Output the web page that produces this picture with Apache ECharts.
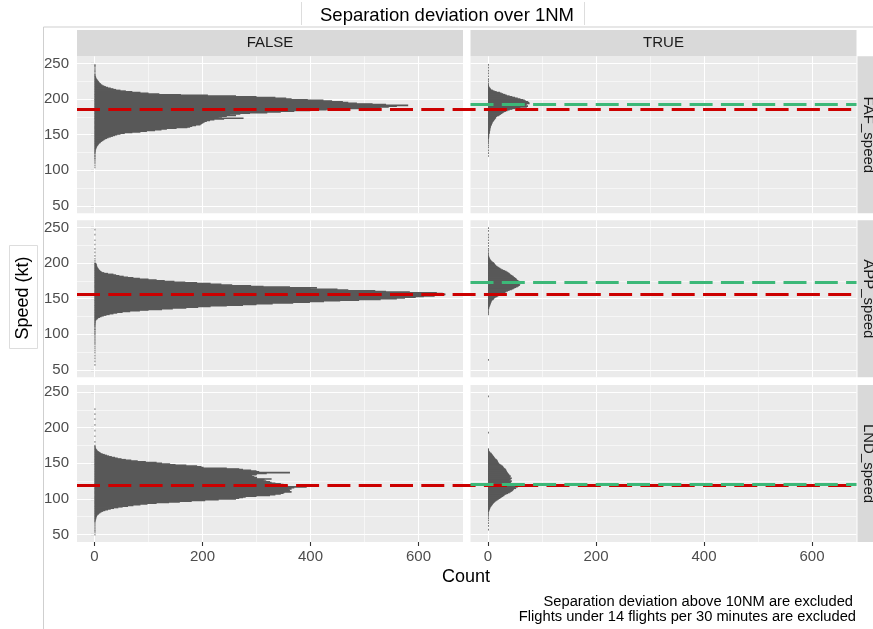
<!DOCTYPE html>
<html><head><meta charset="utf-8">
<script src="https://cdn.jsdelivr.net/npm/echarts@6/dist/echarts.min.js"></script>
<style>html,body{margin:0;padding:0;background:#fff}#chart{width:873px;height:629px}</style>
</head><body><div id="chart"></div>
<script>
// ---------- text / categories ----------
const titleText = 'Separation deviation over 1NM';
const colLabels = ['FALSE', 'TRUE'];
const rowLabels = ['FAF_speed', 'APP_speed', 'LND_speed'];
const xLabel = 'Count';
const yLabel = 'Speed (kt)';
const captions = ['Separation deviation above 10NM are excluded', 'Flights under 14 flights per 30 minutes are excluded'];
const xTicks = [0, 200, 400, 600];
const xMinor = [100, 300, 500];
const yTicks = [50, 100, 150, 200, 250];
const yMinor = [75, 125, 175, 225];

// ---------- histogram counts (1 kt bins, first bin speed = *Start) ----------
const fafFalseStart = 126;
const fafFalse = [2,1,2,2,3,3,4,4,5,6,
 7,8,9,11,12,14,16,18,20,23,
 26,30,34,38,42,48,56,70,85,97,
 112,124,134,152,172,177,181,188,196,198,
 200,202,204,208,214,222,240,276,230,236,
 245,262,251,270,288,320,345,370,400,430,
 470,500,530,545,560,581,540,515,486,470,
 460,440,424,395,365,355,335,300,262,210,
 160,120,100,85,70,58,48,40,35,30,
 25,21,18,15,13,12,10,9,8,7,
 6,5,4,3,3,2,2,1,1,1];
const fafFalseSingles = [104,107,110,112,114,116,117,119,120,121,123,124,125,237,239,240,242,244,246,247,248];

const appFalseStart = 113;
const appFalse = [1,1,1,2,1,2,2,3,4,6,
 7,10,13,17,22,28,35,42,52,66,
 84,100,125,145,170,192,215,245,275,300,
 330,368,399,425,455,490,530,560,575,595,
 610,630,646,650,645,634,584,540,520,470,
 450,400,412,362,313,290,255,235,215,190,
 168,148,130,115,100,84,72,62,54,46,
 40,35,25,18,14,12,10,9,8,7,
 6,5,5,4,4,4,3,1];
const appFalseSingles = [57,62,66,70,74,77,80,83,86,88,90,92,94,96,98,100,101,103,104,106,107,108,110,111,112,203,206,210,215,220,226,232,240,247];

const lndFalseStart = 67;
const lndFalse = [1,1,1,2,2,3,3,3,4,4,
 5,6,8,9,11,13,16,20,25,30,
 36,44,52,62,72,85,98,115,138,158,
 180,205,230,262,268,275,280,300,325,335,
 345,350,352,365,358,362,360,365,362,370,
 393,358,352,350,345,335,328,325,318,313,
 315,328,300,301,296,290,292,300,301,319,
 362,305,300,290,275,268,245,202,198,190,
 170,150,140,125,115,95,80,68,58,50,
 43,38,32,27,23,19,15,12,10,8,
 6,5,4,3,2,2,1,1,1];
const lndFalseSingles = [50,53,55,57,59,61,63,65,180,188,196,204,212,219,226];

const fafTrueStart = 144;
const fafTrue = [1,1,2,1,2,2,2,2,3,3,
 3,3,4,4,4,4,5,5,5,6,
 7,7,8,8,9,10,11,12,13,14,
 15,15,17,20,22,24,26,28,30,33,
 36,40,45,50,60,72,74,70,71,72,
 77,76,74,70,68,65,60,55,50,45,
 40,35,32,28,25,22,16,12,9,6,
 5,4,3,2,1,1,1];
const fafTrueSingles = [120,124,128,132,135,138,140,142,222,225,228,232,236,240,244,248];

const appTrueStart = 136;
const appTrue = [2,2,2,3,3,4,4,5,5,6,
 6,7,8,10,11,12,14,17,19,21,
 24,27,30,32,34,37,40,44,47,49,
 52,55,57,59,58,60,59,59,58,56,
 54,53,52,50,48,47,45,43,41,40,
 38,36,34,31,28,25,23,21,19,17,
 15,14,13,12,11,9,7,6,5,4,
 3,3,2,2];
const appTrueSingles = [64,128,130,132,134,210,212,214,217,220,224,228,232,236,240,245,249];

const lndTrueStart = 83;
const lndTrue = [2,2,3,3,4,4,5,6,7,8,
 9,10,11,13,14,16,18,20,22,24,
 26,28,30,31,34,37,40,42,44,46,
 47,48,52,50,55,52,48,46,44,43,
 42,41,44,40,42,40,44,41,40,42,
 40,39,38,37,36,35,34,34,33,32,
 30,29,28,27,25,23,21,20,19,18,
 18,17,16,14,13,12,11,10,9,8,
 7,6,4,3,2,1,1,1];
const lndTrueSingles = [57,62,66,70,73,76,78,80,82,193,244];

// reference speeds (dashed lines)
const redLines = [185.5, 155.5, 119.3];
const greenLines = [192, 173.3, 120.3];

// ---------- layout ----------
const FONT = 'Liberation Sans, Arial, sans-serif';
const rowTops = [56.3, 220.3, 385];
const rowH = 157;
const colLefts = [77, 470.5];
const colW = 386;
const xMin = -32.5, xMax = 682.5, yMin = 39.5, yMax = 260;

const panelData = [
  [[fafFalseStart, fafFalse, fafFalseSingles], [fafTrueStart, fafTrue, fafTrueSingles]],
  [[appFalseStart, appFalse, appFalseSingles], [appTrueStart, appTrue, appTrueSingles]],
  [[lndFalseStart, lndFalse, lndFalseSingles], [lndTrueStart, lndTrue, lndTrueSingles]]
];

function toData(start, counts, singles) {
  const d = [];
  counts.forEach((c, i) => { if (c > 0) d.push([c, start + i]); });
  singles.forEach(s => d.push([1, s]));
  return d;
}

function renderBin(params, api) {
  const c = api.value(0), s = api.value(1);
  const a = api.coord([0, s + 0.5]);
  const b = api.coord([c, s - 0.5]);
  return {
    type: 'rect',
    shape: { x: a[0], y: a[1] - 0.5, width: Math.max(b[0] - a[0], 0.8), height: b[1] - a[1] + 1 },
    style: { fill: '#595959' }
  };
}

const majorStyle = { color: '#ffffff', width: 1.1, type: 'solid' };
const minorStyle = { color: '#ffffff', width: 0.55, type: 'solid' };
const gridLineData = [].concat(
  yMinor.map(v => ({ yAxis: v, lineStyle: minorStyle })),
  xMinor.map(v => ({ xAxis: v, lineStyle: minorStyle })),
  yTicks.map(v => ({ yAxis: v, lineStyle: majorStyle })),
  xTicks.map(v => ({ xAxis: v, lineStyle: majorStyle }))
);

const grids = [], xAxes = [], yAxes = [], series = [];
for (let r = 0; r < 3; r++) {
  for (let c = 0; c < 2; c++) {
    const gi = grids.length;
    grids.push({ left: colLefts[c], top: rowTops[r], width: colW, height: rowH,
      show: true, backgroundColor: '#EBEBEB', borderWidth: 0, containLabel: false });
    const showX = r === 2, showY = c === 0;
    xAxes.push({ gridIndex: gi, type: 'value', min: xMin, max: xMax,
      axisLine: { show: false }, splitLine: { show: false },
      axisTick: { show: showX, customValues: xTicks, length: 4, lineStyle: { color: '#333333', width: 1.1 } },
      axisLabel: { show: showX, customValues: xTicks, margin: 7.5, color: '#4D4D4D', fontSize: 15, fontFamily: FONT } });
    yAxes.push({ gridIndex: gi, type: 'value', min: yMin, max: yMax,
      axisLine: { show: false }, splitLine: { show: false },
      axisTick: { show: showY, customValues: yTicks, length: 4, lineStyle: { color: '#333333', width: 1.1 } },
      axisLabel: { show: showY, customValues: yTicks, margin: 8, color: '#4D4D4D', fontSize: 15, fontFamily: FONT } });
    const pd = panelData[r][c];
    series.push({ type: 'line', data: [], xAxisIndex: gi, yAxisIndex: gi, silent: true,
      markLine: { silent: true, z: 1, symbol: ['none', 'none'], label: { show: false }, animation: false, data: gridLineData } });
    series.push({ type: 'custom', xAxisIndex: gi, yAxisIndex: gi, z: 2, silent: true,
      encode: { x: 0, y: 1 }, renderItem: renderBin, data: toData(pd[0], pd[1], pd[2]) });
    if (c === 1) {
      series.push({ type: 'line', data: [], xAxisIndex: gi, yAxisIndex: gi, silent: true,
        markLine: { silent: true, z: 6, symbol: ['none', 'none'], label: { show: false }, animation: false,
          data: [{ yAxis: greenLines[r], lineStyle: { color: '#3CB878', width: 3.2, type: [23, 8.3], cap: 'butt' } }] } });
    }
  }
}
// overlay grids for the red reference line spanning both columns
for (let r = 0; r < 3; r++) {
  const gi = grids.length;
  grids.push({ left: colLefts[0], top: rowTops[r], width: 852.5 - colLefts[0], height: rowH, show: false });
  xAxes.push({ gridIndex: gi, type: 'value', min: 0, max: 1, show: false });
  yAxes.push({ gridIndex: gi, type: 'value', min: yMin, max: yMax, show: false });
  series.push({ type: 'line', data: [], xAxisIndex: gi, yAxisIndex: gi, silent: true,
    markLine: { silent: true, z: 5, symbol: ['none', 'none'], label: { show: false }, animation: false,
      data: [{ yAxis: redLines[r], lineStyle: { color: '#CC0000', width: 3.2, type: [23, 8.3], cap: 'butt' } }] } });
}

const graphics = [];
const frame = '#CFCFCF';
graphics.push({ type: 'line', shape: { x1: 43.5, y1: 27, x2: 873, y2: 27 }, style: { stroke: frame, lineWidth: 1 } });
graphics.push({ type: 'line', shape: { x1: 43.5, y1: 27, x2: 43.5, y2: 629 }, style: { stroke: frame, lineWidth: 1 } });
graphics.push({ type: 'line', shape: { x1: 301.5, y1: 2, x2: 301.5, y2: 25 }, style: { stroke: '#DDDDDD', lineWidth: 1 } });
graphics.push({ type: 'line', shape: { x1: 584.5, y1: 2, x2: 584.5, y2: 25 }, style: { stroke: '#DDDDDD', lineWidth: 1 } });
graphics.push({ type: 'text', x: 447, y: 15.5, style: { text: titleText, fill: '#000', font: '18.5px ' + FONT, align: 'center', verticalAlign: 'middle' } });
for (let c = 0; c < 2; c++) {
  graphics.push({ type: 'rect', shape: { x: colLefts[c], y: 30, width: colW, height: rowTops[0] - 30 }, style: { fill: '#D9D9D9' } });
  graphics.push({ type: 'text', x: colLefts[c] + colW / 2, y: 43.3, style: { text: colLabels[c], fill: '#1A1A1A', font: '15px ' + FONT, align: 'center', verticalAlign: 'middle' } });
}
for (let r = 0; r < 3; r++) {
  graphics.push({ type: 'rect', shape: { x: 857.5, y: rowTops[r], width: 20, height: rowH }, style: { fill: '#D9D9D9' } });
  graphics.push({ type: 'text', x: 868, y: rowTops[r] + rowH / 2, rotation: -Math.PI / 2, style: { text: rowLabels[r], fill: '#1A1A1A', font: '15px ' + FONT, align: 'center', verticalAlign: 'middle' } });
}
graphics.push({ type: 'rect', shape: { x: 9.5, y: 245.5, width: 28, height: 103 }, style: { fill: 'none', stroke: '#DDDDDD', lineWidth: 1 } });
graphics.push({ type: 'text', x: 23.5, y: 298, rotation: Math.PI / 2, style: { text: yLabel, fill: '#000', font: '18px ' + FONT, align: 'center', verticalAlign: 'middle' } });
graphics.push({ type: 'text', x: 466, y: 577, style: { text: xLabel, fill: '#000', font: '18px ' + FONT, align: 'center', verticalAlign: 'middle' } });
graphics.push({ type: 'text', x: 853, y: 602, style: { text: captions[0], fill: '#000', font: '14.7px ' + FONT, align: 'right', verticalAlign: 'middle' } });
graphics.push({ type: 'text', x: 856, y: 617, style: { text: captions[1], fill: '#000', font: '14.7px ' + FONT, align: 'right', verticalAlign: 'middle' } });

const chart = echarts.init(document.getElementById('chart'), null, { renderer: 'canvas' });
chart.setOption({
  backgroundColor: '#ffffff',
  animation: false,
  grid: grids, xAxis: xAxes, yAxis: yAxes,
  series: series,
  graphic: { elements: graphics }
});
</script>
</body></html>
